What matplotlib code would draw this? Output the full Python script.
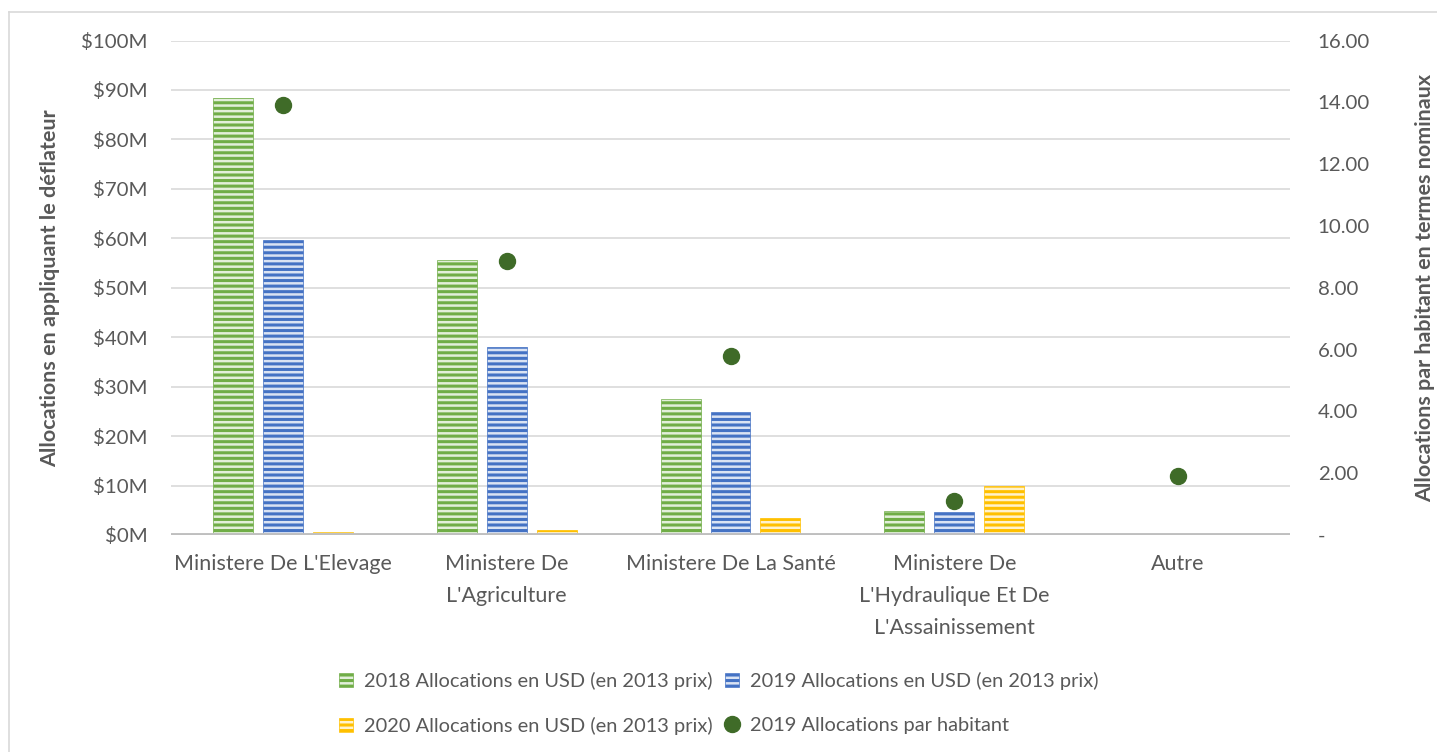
import matplotlib
matplotlib.use("Agg")
import matplotlib.pyplot as plt
import numpy as np
from matplotlib.lines import Line2D
from matplotlib.ticker import FuncFormatter

# data
categories = ["Ministere De L'Elevage", "Ministere De\nL'Agriculture", "Ministere De La Santé",
              "Ministere De\nL'Hydraulique Et De\nL'Assainissement", "Autre"]
alloc_2018 = [88.3, 55.7, 27.5, 4.8, 0.0]   # $M, 2013 prices
alloc_2019 = [59.6, 38.1, 24.8, 4.6, 0.0]
alloc_2020 = [0.6, 1.1, 3.5, 9.9, 0.0]
per_capita_2019 = [13.9, 8.87, 5.8, 1.1, 1.9]

labels = ["2018 Allocations en USD (en 2013 prix)", "2019 Allocations en USD (en 2013 prix)",
          "2020 Allocations en USD (en 2013 prix)", "2019 Allocations par habitant"]

TXT = "#595959"
plt.rcParams['font.family'] = ['Lato', 'DejaVu Sans']
plt.rcParams['hatch.linewidth'] = 2.2

fig = plt.figure(figsize=(14.37, 7.52), dpi=100)
ax = fig.add_axes([171 / 1437, 1 - 535 / 752, 1119 / 1437, 494.5 / 752])
ax2 = ax.twinx()

x = np.arange(len(categories))
w = 0.178
off = 0.223
bar_styles = [("#e2efda", "#70ad47"), ("#dae3f3", "#4472c4"), ("#fff2cc", "#ffc000")]
handles = []
for k, vals in enumerate([alloc_2018, alloc_2019, alloc_2020]):
    fc, ec = bar_styles[k]
    b = ax.bar(x + (k - 1) * off, vals, w, color=fc, edgecolor=ec, linewidth=0.5,
               hatch="---", zorder=3, label=labels[k])
    handles.append(b)

dots, = ax2.plot(x, per_capita_2019, "o", color="#3f6b28", markersize=11.5, zorder=4,
                 label=labels[3])

# left axis
ax.set_xlim(-0.5, 4.5)
ax.set_ylim(0, 100)
ax.set_yticks(np.arange(0, 101, 10))
ax.yaxis.set_major_formatter(FuncFormatter(lambda v, p: "$%dM" % v))
ax.grid(axis="y", color="#d9d9d9", linewidth=1.2, zorder=0)
ax.set_axisbelow(True)
ax.set_xticks(x)
ax.set_xticklabels(categories, fontsize=15.5, color=TXT, linespacing=1.75)
ax.tick_params(axis="x", length=0, pad=14)
ax.tick_params(axis="y", length=0, pad=17, labelsize=14.7, labelcolor=TXT)
ax.axhline(0, color="#bfbfbf", linewidth=2.8, zorder=5)
ylab1 = ax.set_ylabel("Allocations en appliquant le déflateur", fontsize=14.5,
                      fontweight="bold", color=TXT)
ax.yaxis.set_label_coords(-0.099, 0.5)

# right axis
ax2.set_ylim(0, 16)
ax2.set_yticks(np.arange(0, 17, 2))
ax2.yaxis.set_major_formatter(FuncFormatter(lambda v, p: "-" if v == 0 else "%.2f" % v))
ax2.tick_params(axis="y", length=0, pad=20, labelsize=14.7, labelcolor=TXT)
ylab2 = ax2.set_ylabel("Allocations par habitant en termes nominaux", fontsize=14.5,
                       fontweight="bold", color=TXT, rotation=90)
ax2.yaxis.set_label_coords(1.1117, 0.5)

# size the axis titles so their lengths match the reference (~385 / ~395 px)
fig.canvas.draw()
r = fig.canvas.get_renderer()
h1 = ylab1.get_window_extent(r).height
h2 = ylab2.get_window_extent(r).height
scale = (385 / h1 + 395 / h2) / 2
ylab1.set_fontsize(14.5 * scale)
ylab2.set_fontsize(14.5 * scale)

for a in (ax, ax2):
    for s in a.spines.values():
        s.set_visible(False)

# legend: row 1 -> 2018, 2019 ; row 2 -> 2020, dots
leg = fig.legend([handles[0], handles[2], handles[1], dots],
                 [labels[0], labels[2], labels[1], labels[3]],
                 ncol=2, loc="center", bbox_to_anchor=(0.5, 1 - 703 / 752), frameon=False,
                 fontsize=14.4, labelcolor=TXT, handlelength=0.7, handleheight=0.7,
                 handletextpad=0.55, columnspacing=0.6, labelspacing=1.35)

# chart border
fig.add_artist(Line2D([9 / 1437, 9 / 1437], [0, 1 - 12 / 752], color="#d9d9d9", linewidth=1.2))
fig.add_artist(Line2D([9 / 1437, 1], [1 - 12 / 752, 1 - 12 / 752], color="#d9d9d9", linewidth=1.2))

fig.savefig("out.png", dpi=100)
